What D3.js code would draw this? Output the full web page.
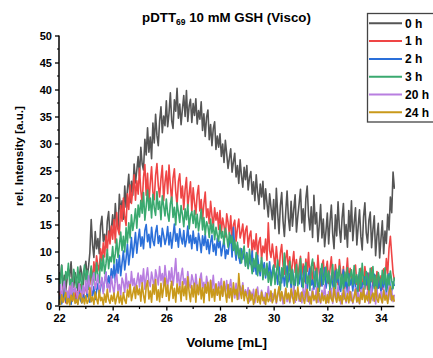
<!DOCTYPE html>
<html><head><meta charset="utf-8">
<script src="https://cdn.jsdelivr.net/npm/d3@7"></script>
<style>body{margin:0;background:#fff}svg{display:block}text{font-family:"Liberation Sans",Arial,sans-serif;font-weight:bold;fill:#000}</style>
</head><body>
<script>
// x values: 22.00 to 34.50 in steps of 0.05 (251 points)
const xStart = 22, xStep = 0.05;
const seriesNames = ["0 h","1 h","2 h","3 h","20 h","24 h"];
const seriesColors = ["#555555","#ef4545","#2a6fd9","#3aa96f","#b87ee0","#c9991a"];
const xTicks = [22,24,26,28,30,32,34];
const yTicks = [0,5,10,15,20,25,30,35,40,45,50];

const h0 = [
6.2,4.8,7.5,3.1,5.6,2.7,4.9,6.8,5.3,8.1,4.0,3.4,6.1,5.0,2.8,4.6,7.3,5.9,3.6,6.6,
8.2,5.4,7.1,9.8,15.9,11.3,8.9,13.7,10.5,12.4,9.6,14.8,16.5,11.9,13.2,10.8,15.6,17.4,12.7,14.1,
16.8,13.5,18.9,15.1,14.2,20.6,17.3,19.4,16.0,22.1,18.2,21.5,24.3,19.1,23.0,20.4,26.2,22.7,25.1,27.6,
24.0,29.3,26.2,25.1,30.8,27.9,32.9,28.4,31.2,27.2,33.8,30.1,35.4,31.5,29.6,34.2,36.8,32.0,35.1,33.3,
37.9,33.1,35.6,39.4,34.2,32.8,38.1,36.0,40.2,34.7,37.3,33.5,36.4,38.9,35.0,39.8,34.1,36.9,38.2,33.9,
37.4,35.2,38.3,33.6,36.1,34.5,37.7,32.4,35.5,31.3,34.9,36.2,30.7,33.5,29.6,32.8,34.0,28.9,31.4,29.3,
31.8,27.6,29.9,26.5,30.6,28.1,25.4,27.3,29.0,24.7,26.6,28.2,23.8,25.9,22.6,27.0,24.1,21.9,25.6,23.3,
25.9,21.4,23.7,24.8,20.6,22.9,19.4,24.2,21.0,18.7,22.5,20.1,23.0,17.9,21.6,19.0,16.4,20.7,18.2,15.9,
19.6,14.2,21.7,17.1,13.3,18.5,20.9,15.6,12.8,17.4,21.2,16.2,13.9,19.3,14.7,17.8,20.5,13.6,16.5,18.9,
21.5,15.3,17.9,13.7,19.8,22.1,16.6,14.0,18.3,12.6,20.4,15.1,17.2,11.8,14.9,18.7,12.5,16.0,10.9,13.8,
17.1,11.4,15.5,18.6,13.2,10.5,16.8,12.9,19.2,14.4,11.7,16.2,18.9,12.3,15.0,10.8,17.6,13.7,19.4,12.0,
15.3,18.1,11.2,14.6,17.7,12.8,10.3,16.4,19.0,13.5,11.6,15.8,17.3,10.7,14.1,16.6,9.2,12.9,15.2,8.8,
12.4,15.7,9.6,13.8,11.5,16.9,14.0,20.1,17.2,24.7,21.6];
const h1 = [
1.2,2.8,0.7,3.4,1.9,0.5,2.3,1.1,3.7,2.0,0.8,1.6,3.1,0.6,2.5,1.4,3.9,2.2,0.9,2.6,
3.5,2.1,5.3,3.9,6.9,4.6,8.1,5.8,9.2,7.3,6.4,10.5,8.2,11.6,9.0,12.9,10.1,13.8,11.4,14.7,
12.3,15.9,11.6,17.2,14.0,13.1,18.5,15.6,19.9,16.4,14.8,20.7,17.8,22.3,18.9,21.4,24.2,19.5,23.1,20.6,
25.4,21.2,19.0,23.8,26.1,20.4,24.5,18.8,22.6,25.7,21.0,19.6,24.1,26.3,22.2,20.1,23.5,25.9,19.4,22.8,
24.9,20.7,26.0,22.4,19.2,23.6,25.3,21.1,18.6,23.0,24.4,19.9,22.1,17.8,21.5,23.7,18.3,20.6,22.9,17.4,
21.8,19.1,16.9,20.5,22.2,17.5,19.6,15.9,18.8,21.0,16.3,17.9,15.2,19.3,16.7,14.6,18.1,15.8,17.2,14.1,
17.6,13.5,16.2,14.8,12.7,17.0,15.4,13.1,16.6,12.2,14.9,15.8,11.9,14.3,16.0,12.5,13.6,15.1,11.5,13.9,
14.7,10.8,12.9,13.8,9.6,12.1,10.4,13.3,9.1,11.7,12.6,8.6,11.0,9.8,12.3,8.4,15.3,10.2,8.9,11.4,
9.3,7.1,10.9,8.2,6.2,9.7,11.3,7.5,5.8,8.8,10.2,6.6,9.0,5.4,7.9,10.0,6.1,8.5,5.2,7.3,
9.1,5.6,7.7,4.4,8.6,6.3,9.8,5.0,7.2,3.9,8.0,6.8,4.7,9.3,5.9,3.6,7.5,8.4,4.9,6.5,
8.2,4.1,6.7,9.0,5.3,3.4,7.6,5.8,3.8,8.5,6.1,4.5,7.2,3.1,5.6,8.8,4.3,6.9,5.0,3.5,
6.4,7.5,3.9,5.4,2.7,6.9,4.6,3.2,7.2,5.1,2.9,6.0,4.2,7.0,3.6,5.7,2.5,6.3,4.8,3.3,
5.5,3.0,6.8,4.4,8.7,5.9,10.6,12.8,9.4,6.1,4.6];
const h2 = [
0.6,1.9,0.3,1.2,2.6,0.8,0.4,2.2,1.5,0.2,1.8,2.9,0.7,1.3,0.3,2.4,1.0,0.5,2.0,1.4,
0.9,2.5,1.3,0.6,3.0,1.8,3.5,1.1,2.7,4.1,2.0,3.3,5.0,2.6,4.4,6.2,3.4,5.5,4.0,6.8,
5.1,7.6,4.3,8.5,6.0,9.3,5.5,7.9,10.1,6.6,8.7,11.4,7.5,9.8,12.6,8.9,11.0,13.5,9.7,12.2,
14.1,11.0,12.7,10.5,13.9,15.0,11.8,13.2,10.7,14.5,12.0,11.1,13.6,14.8,11.5,12.9,10.9,14.3,13.0,11.3,
12.4,14.6,11.2,13.5,10.6,12.8,15.1,11.9,13.3,10.8,14.2,12.5,11.4,13.9,10.9,12.1,14.7,11.6,13.0,10.5,
13.8,11.5,12.6,10.2,13.4,11.9,9.8,12.9,11.1,13.2,10.4,12.2,9.6,11.7,13.0,10.0,11.4,9.3,12.5,10.7,
11.9,9.2,10.8,12.3,8.7,10.3,9.5,11.6,13.0,9.0,14.5,10.6,8.4,11.2,9.1,7.8,10.5,8.6,9.9,7.4,
9.8,6.9,8.6,7.6,10.1,6.3,8.2,5.8,9.3,7.0,5.5,8.4,6.6,7.9,5.1,7.2,6.0,8.1,4.8,6.5,
7.4,4.6,6.2,3.9,7.1,5.3,4.2,6.8,3.6,5.6,7.3,4.4,5.9,3.3,6.5,4.9,3.7,6.0,5.1,4.0,
6.6,3.5,5.4,7.2,4.1,2.9,5.8,6.9,3.8,4.7,3.0,6.3,5.2,2.7,4.5,6.8,3.6,5.0,7.0,3.2,
4.8,6.1,2.8,5.5,3.9,2.4,6.4,4.3,5.7,3.1,2.6,5.1,6.6,3.5,4.6,2.3,5.9,3.8,4.9,2.7,
5.6,3.4,2.1,4.8,6.2,3.0,4.2,2.5,5.3,3.8,6.0,2.8,4.5,1.9,3.6,5.8,2.6,4.1,3.2,5.0,
2.4,4.7,3.3,5.5,2.2,4.0,5.9,3.1,2.7,4.4,3.6];
const h3 = [
5.9,3.1,7.4,4.6,2.5,6.3,5.0,7.8,3.7,4.9,2.8,6.7,5.4,3.3,7.1,4.2,6.0,2.6,5.5,7.5,
4.4,6.5,3.0,5.2,7.3,3.8,6.1,4.7,7.9,5.6,4.2,8.6,6.4,9.3,5.9,7.7,10.4,6.8,9.0,8.1,
10.9,7.8,9.6,12.3,8.9,11.1,13.6,10.2,12.8,9.9,14.4,11.6,15.3,12.5,16.8,13.9,15.6,17.9,14.3,18.6,
16.4,19.5,17.1,20.9,15.8,18.4,21.4,17.6,19.9,16.2,20.6,18.1,16.7,21.1,17.8,19.3,15.9,20.3,18.5,16.6,
19.7,17.0,15.6,18.8,20.1,16.3,18.2,14.9,19.0,17.3,15.4,18.5,16.8,14.6,17.9,15.9,18.7,14.2,16.6,17.4,
15.2,17.6,14.4,16.9,13.8,15.7,17.8,14.0,16.3,13.1,15.5,14.7,12.6,16.0,13.4,15.1,12.2,14.5,13.0,11.9,
14.9,12.5,13.7,11.3,14.3,12.9,10.8,13.5,11.6,12.8,10.2,12.1,9.4,11.7,8.8,10.6,7.9,9.9,11.0,7.3,
9.6,6.8,10.4,8.0,5.9,8.7,7.1,9.8,5.5,7.6,6.3,8.9,4.8,6.9,5.6,7.8,4.3,6.2,3.7,5.4,
7.5,3.9,6.1,8.4,4.6,2.9,7.0,5.3,9.7,6.4,3.4,5.8,8.2,4.1,6.7,2.7,5.0,7.6,3.6,6.2,
8.7,4.8,3.2,6.6,7.9,4.0,5.5,2.8,7.2,8.6,5.1,3.5,6.9,4.4,2.6,6.0,7.7,3.9,5.3,7.1,
4.2,6.4,2.9,5.0,7.6,3.6,2.4,6.7,4.9,7.3,3.3,5.8,2.7,6.2,4.5,7.0,3.1,5.4,6.6,3.8,
7.4,4.1,5.7,2.6,6.8,3.5,7.8,4.7,3.0,6.3,5.2,2.5,6.9,4.4,7.2,3.2,5.6,2.8,6.1,4.9,
3.4,6.5,4.0,7.0,2.9,5.7,3.7,6.4,4.6,3.1,5.2];
const h20 = [
2.4,3.9,1.3,3.1,4.5,1.8,2.7,0.9,3.6,2.0,4.2,1.5,3.3,2.5,1.1,4.0,2.9,1.6,3.7,2.2,
4.6,2.3,5.5,3.4,2.0,4.9,6.0,3.0,4.3,5.7,2.6,3.8,5.2,2.2,4.7,6.1,3.2,4.0,2.5,5.4,
3.6,2.1,4.8,5.8,2.7,3.9,1.9,5.1,4.2,2.4,5.9,3.1,4.5,2.8,6.3,3.7,5.0,2.9,4.4,6.0,
3.4,5.6,4.1,6.8,3.0,5.2,7.0,4.3,3.5,6.2,4.8,3.2,6.6,5.3,3.8,7.2,4.6,5.9,3.6,7.4,
5.1,3.3,6.4,4.5,7.0,3.7,5.8,8.7,4.2,6.1,3.1,5.5,6.9,3.9,5.0,2.8,6.3,4.0,3.3,5.7,
4.6,2.6,5.8,3.5,2.2,4.9,6.0,3.1,4.3,2.4,5.4,3.8,2.0,4.7,3.0,5.6,2.5,3.9,1.9,4.4,
3.2,5.0,1.8,3.9,2.6,4.6,1.5,3.4,4.8,2.2,3.0,1.4,4.1,2.7,1.2,3.6,2.3,4.2,1.6,2.9,
1.8,3.3,0.7,2.5,1.4,3.0,0.5,2.1,3.4,1.2,0.6,2.8,1.7,0.4,2.4,1.0,3.5,1.5,0.8,2.2,
1.1,2.9,0.4,1.8,3.3,0.9,2.4,0.3,1.6,3.0,0.7,2.1,0.5,2.7,1.3,3.6,0.6,1.9,2.6,0.8,
2.3,0.5,3.1,1.4,3.9,0.8,2.5,0.3,1.7,3.2,0.9,1.5,3.4,0.6,2.2,0.4,2.8,1.2,3.8,1.0,
0.6,2.6,1.3,3.2,0.4,1.9,2.9,0.8,3.6,1.5,0.3,2.3,1.1,3.0,0.5,2.0,3.4,0.9,2.5,0.4,
1.7,3.3,0.6,2.4,0.3,2.9,1.2,3.7,0.7,2.0,2.7,0.4,1.6,3.5,0.9,2.2,0.3,3.0,1.3,1.9,
2.6,0.5,3.2,1.4,2.3,0.6,3.6,1.1,2.8,0.7,2.0];
const h24 = [
1.1,0.2,2.0,0.6,1.5,2.4,0.3,1.3,0.1,1.9,0.8,2.3,0.4,1.2,0.2,1.7,2.2,0.5,1.4,0.3,
1.8,0.4,1.0,3.3,0.7,1.6,0.2,2.5,1.2,0.3,2.8,0.9,1.5,0.1,2.1,0.6,3.0,1.1,0.4,1.9,
0.8,2.3,0.3,1.4,2.6,0.5,1.8,0.2,2.4,1.0,0.4,2.9,1.6,3.9,0.9,2.2,3.4,1.3,3.7,2.0,
3.1,0.8,4.2,1.9,0.5,3.5,4.6,1.2,2.7,0.6,3.9,2.1,4.8,1.0,2.9,0.7,4.1,1.5,3.3,5.1,
1.7,3.8,0.9,2.9,4.5,1.3,3.2,0.6,4.0,2.2,3.5,0.8,4.4,1.8,3.6,1.1,5.3,2.5,0.7,3.7,
1.6,4.1,0.6,3.8,2.0,4.9,1.2,3.3,0.5,3.9,2.3,4.3,0.9,4.6,1.5,3.0,0.8,4.0,1.9,3.4,
1.0,3.6,1.7,4.5,2.4,0.6,3.9,1.4,3.2,0.7,4.2,2.0,3.0,1.1,5.9,2.8,1.3,3.7,0.9,2.6,
1.6,0.4,2.8,1.0,2.1,0.2,1.4,3.0,0.6,1.8,0.3,2.5,0.9,1.5,0.2,2.2,0.7,1.2,2.7,0.5,
1.3,3.0,0.6,2.0,3.5,0.9,2.6,1.5,0.4,3.2,1.2,2.3,0.7,3.1,1.8,0.4,2.8,1.0,3.4,1.4,
0.8,2.5,1.4,0.4,2.1,3.0,0.7,1.7,0.3,2.6,1.1,1.9,0.5,3.2,1.3,0.6,2.3,0.9,1.8,0.4,
2.0,0.5,2.7,1.2,0.7,3.3,1.5,0.6,2.4,0.9,1.8,0.3,2.9,1.3,0.8,2.2,0.5,2.6,1.1,0.6,
1.7,3.0,0.7,1.5,0.4,2.4,1.1,3.2,0.6,1.9,0.9,2.7,0.5,1.6,2.3,0.8,3.4,1.2,0.6,2.1,
1.3,0.5,2.8,1.0,1.9,0.4,2.4,3.5,0.9,1.8,0.7];
const seriesValues = [h0,h1,h2,h3,h20,h24];

const W = 433, H = 358;
const svg = d3.select("body").append("svg").attr("width", W).attr("height", H);
const x = d3.scaleLinear().domain([22, 34.5]).range([59, 394.4]);
const y = d3.scaleLinear().domain([0, 50]).range([305.5, 35.5]);

svg.append("clipPath").attr("id","clip").append("rect")
  .attr("x", 59).attr("y", 30).attr("width", 336).attr("height", 276.5);

const line = d3.line().x((d,i)=>x(xStart + i*xStep)).y(d=>y(d));
const g = svg.append("g").attr("clip-path","url(#clip)");
seriesValues.forEach((vals, k) => {
  g.append("path").datum(vals).attr("d", line)
    .attr("fill","none").attr("stroke", seriesColors[k])
    .attr("stroke-width", 1.6).attr("stroke-linejoin","round");
});

// y axis
const yAxis = d3.axisLeft(y).tickValues(yTicks).tickSize(4).tickPadding(3).tickFormat(d3.format("d"));
const yg = svg.append("g").attr("transform","translate(59,0)").call(yAxis);
yg.select(".domain").attr("stroke","#000").attr("stroke-width",1.5).attr("d","M0,"+y(0)+"V"+y(50));
yg.selectAll(".tick line").attr("stroke","#000").attr("stroke-width",1.3);
yg.selectAll(".tick text").style("font-size","11px").style("font-weight","bold").attr("fill","#000");
const yMinor = d3.range(2.5, 50, 5);
svg.append("g").selectAll("line").data(yMinor).join("line")
  .attr("x1",57).attr("x2",59).attr("y1",d=>y(d)).attr("y2",d=>y(d))
  .attr("stroke","#000").attr("stroke-width",1.2);

// x axis
const xAxis = d3.axisBottom(x).tickValues(xTicks).tickSize(4).tickPadding(4).tickFormat(d3.format("d"));
const xg = svg.append("g").attr("transform","translate(0,306.5)").call(xAxis);
xg.select(".domain").attr("stroke","#000").attr("stroke-width",1.5).attr("d","M"+x(22)+",0H"+x(34.5));
xg.selectAll(".tick line").attr("stroke","#000").attr("stroke-width",1.3);
xg.selectAll(".tick text").style("font-size","11px").style("font-weight","bold").attr("fill","#000");
const xMinor = [23,25,27,29,31,33];
svg.append("g").selectAll("line").data(xMinor).join("line")
  .attr("x1",d=>x(d)).attr("x2",d=>x(d)).attr("y1",306.5).attr("y2",309)
  .attr("stroke","#000").attr("stroke-width",1.2);

// titles
svg.append("text").attr("x", 226.5).attr("y", 347).attr("text-anchor","middle")
  .style("font-size","13.5px").text("Volume [mL]");
svg.append("text").attr("transform","translate(22.5,156) rotate(-90)").attr("text-anchor","middle")
  .style("font-size","11.7px").text("rel. Intensity [a.u.]");
const t = svg.append("text").attr("x", 226.5).attr("y", 22).attr("text-anchor","middle").style("font-size","13.3px");
t.append("tspan").text("pDTT");
t.append("tspan").attr("dy",3).style("font-size","8.5px").text("69");
t.append("tspan").attr("dy",-3).text(" 10 mM GSH (Visco)");

// legend
const lg = svg.append("g");
lg.append("rect").attr("x",367.5).attr("y",13.5).attr("width",90).attr("height",108.5)
  .attr("fill","#fff").attr("stroke","#444").attr("stroke-width",1.3);
seriesNames.forEach((n,k)=>{
  const yy = 23.3 + k*17.8;
  lg.append("line").attr("x1",369).attr("x2",402).attr("y1",yy).attr("y2",yy)
    .attr("stroke",seriesColors[k]).attr("stroke-width",2);
  lg.append("text").attr("x",405).attr("y",yy+4.3).style("font-size","12px").text(n);
});
</script>
</body></html>
